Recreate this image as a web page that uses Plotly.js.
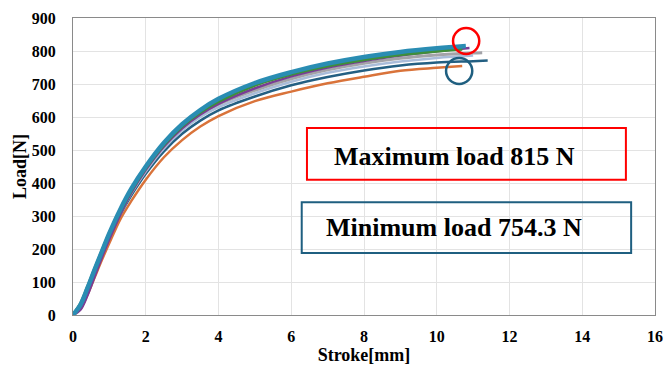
<!DOCTYPE html>
<html>
<head>
<meta charset="utf-8">
<script src="https://cdn.plot.ly/plotly-3.0.1.min.js"></script>
<style>html,body{margin:0;padding:0;background:#fff;}#chart{width:669px;height:367px;}</style>
</head>
<body>
<div id="chart"></div>
<script>
// Stroke [mm] / Load [N] readings for each test specimen
const orangeX = [0, 0.2, 0.4, 0.6, 0.8, 1.0, 1.3, 1.6, 2.0, 2.5, 3.0, 3.5, 4.0, 5.0, 6.0, 7.0, 8.0, 9.0, 10.0, 10.7];
const orangeY = [0, 18, 62, 115, 168, 218, 290, 345, 410, 478, 530, 571, 603, 648, 677, 702, 722, 740, 749, 754.3];

const darkBlueX = [0, 0.2, 0.4, 0.6, 0.8, 1.0, 1.3, 1.6, 2.0, 2.5, 3.0, 3.5, 4.0, 5.0, 6.0, 7.0, 8.0, 9.0, 10.0, 11.0, 11.4];
const darkBlueY = [0, 26, 76, 130, 183, 235, 305, 362, 428, 496, 549, 589, 620, 662, 696, 721, 741, 756, 765, 769, 771];

const lightBlueX = [0, 0.2, 0.4, 0.6, 0.8, 1.0, 1.3, 1.6, 2.0, 2.5, 3.0, 3.5, 4.0, 5.0, 6.0, 7.0, 8.0, 9.0, 10.0, 11.0];
const lightBlueY = [0, 25, 74, 130, 184, 237, 308, 368, 435, 505, 559, 600, 630, 672, 707, 734, 753, 768, 779, 786];

const grayX = [0, 0.2, 0.4, 0.6, 0.8, 1.0, 1.3, 1.6, 2.0, 2.5, 3.0, 3.5, 4.0, 5.0, 6.0, 7.0, 8.0, 9.0, 10.0, 11.0, 11.25];
const grayY = [0, 28, 78, 134, 188, 241, 313, 373, 441, 512, 567, 608, 639, 681, 716, 743, 763, 778, 788, 794, 795];

const purpleX = [0, 0.2, 0.4, 0.6, 0.8, 1.0, 1.3, 1.6, 2.0, 2.5, 3.0, 3.5, 4.0, 5.0, 6.0, 7.0, 8.0, 9.0, 10.0, 10.9];
const purpleY = [0, 15, 60, 118, 176, 230, 305, 370, 440, 511, 566, 608, 640, 687, 723, 750, 770, 786, 799, 809];

const greenX = [0, 0.2, 0.4, 0.6, 0.8, 1.0, 1.3, 1.6, 2.0, 2.5, 3.0, 3.5, 4.0, 5.0, 6.0, 7.0, 8.0, 9.0, 10.0, 10.7];
const greenY = [0, 32, 84, 140, 194, 247, 317, 378, 446, 517, 573, 615, 648, 697, 730, 755, 774, 789, 800, 806];

const tealX = [0, 0.2, 0.4, 0.6, 0.8, 1.0, 1.3, 1.6, 2.0, 2.5, 3.0, 3.5, 4.0, 5.0, 6.0, 7.0, 8.0, 9.0, 10.0, 10.8];
const tealY = [0, 30, 82, 139, 194, 248, 320, 382, 450, 522, 578, 621, 655, 703, 736, 762, 782, 797, 808, 815];

const xTicks = [0, 2, 4, 6, 8, 10, 12, 14, 16];
const yTicks = [0, 100, 200, 300, 400, 500, 600, 700, 800, 900];
const maxLabel = "Maximum load 815 N";
const minLabel = "Minimum load 754.3 N";

const serif = '"Liberation Serif", "Times New Roman", serif';

function line(x, y, color, width) {
  return {x: x, y: y, type: 'scatter', mode: 'lines',
          line: {color: color, width: width, shape: 'spline', smoothing: 1},
          hoverinfo: 'skip', showlegend: false};
}

const data = [
  line(orangeX, orangeY, '#D9733A', 2.5),
  line(darkBlueX, darkBlueY, '#235F82', 2.5),
  line(lightBlueX, lightBlueY, '#A9BCD9', 2.5),
  line(grayX, grayY, '#A3A3A8', 3),
  line(purpleX, purpleY, '#7A3C95', 2.5),
  line(greenX, greenY, '#3F8F3A', 3.5),
  line(tealX, tealY, '#2A8DB3', 4.5)
];

const layout = {
  width: 669, height: 367,
  margin: {l: 73, r: 14, t: 18, b: 52},
  paper_bgcolor: '#ffffff', plot_bgcolor: '#ffffff',
  font: {family: serif, color: '#000'},
  xaxis: {
    range: [0, 16], tickvals: xTicks, ticktext: xTicks.map(String),
    showgrid: true, gridcolor: '#e3e3e3', gridwidth: 1,
    showline: true, linecolor: '#8a8a8a', linewidth: 1, mirror: true,
    zeroline: false, ticks: '', ticklabelstandoff: 7,
    tickfont: {family: serif, size: 16, weight: 'bold', color: '#000'},
    title: {text: 'Stroke[mm]', standoff: 2, font: {family: serif, size: 18, weight: 'bold', color: '#000'}}
  },
  yaxis: {
    range: [0, 900], tickvals: yTicks, ticktext: yTicks.map(String),
    showgrid: true, gridcolor: '#e3e3e3', gridwidth: 1,
    showline: true, linecolor: '#8a8a8a', linewidth: 1, mirror: true,
    zeroline: false, ticks: '', ticklabelstandoff: 13,
    tickfont: {family: serif, size: 16, weight: 'bold', color: '#000'},
    title: {text: 'Load[N]', standoff: 0, font: {family: serif, size: 18, weight: 'bold', color: '#000'}}
  },
  shapes: [
    {type: 'rect', xref: 'paper', yref: 'paper', x0: 0.402, x1: 0.950, y0: 0.455, y1: 0.630,
     line: {color: '#FF0000', width: 2}, fillcolor: 'rgba(255,255,255,0)'},
    {type: 'rect', xref: 'paper', yref: 'paper', x0: 0.393, x1: 0.959, y0: 0.209, y1: 0.380,
     line: {color: '#1F5F80', width: 2}, fillcolor: 'rgba(255,255,255,0)'},
    {type: 'circle', xref: 'paper', yref: 'paper', x0: 0.653, x1: 0.698, y0: 0.879, y1: 0.966,
     line: {color: '#FF0000', width: 2.5}},
    {type: 'circle', xref: 'paper', yref: 'paper', x0: 0.641, x1: 0.686, y0: 0.778, y1: 0.865,
     line: {color: '#1F5F80', width: 2.5}}
  ],
  annotations: [
    {xref: 'paper', yref: 'paper', x: 0.655, y: 0.532, xanchor: 'center', yanchor: 'middle',
     text: maxLabel, showarrow: false, font: {family: serif, size: 26, weight: 'bold', color: '#000'}},
    {xref: 'paper', yref: 'paper', x: 0.655, y: 0.293, xanchor: 'center', yanchor: 'middle',
     text: minLabel, showarrow: false, font: {family: serif, size: 26, weight: 'bold', color: '#000'}}
  ]
};

Plotly.newPlot('chart', data, layout, {staticPlot: true, displayModeBar: false});
</script>
</body>
</html>
